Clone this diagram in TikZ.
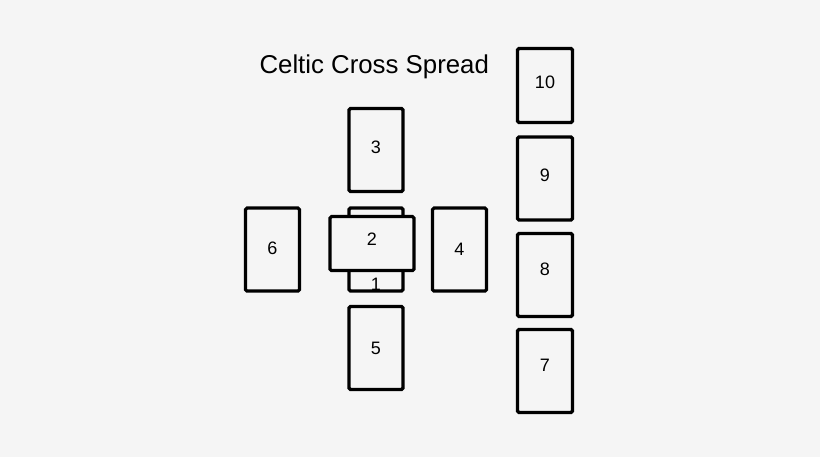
\documentclass[tikz,border=0pt]{standalone}
\usepackage{fontspec}
\setmainfont{Liberation Sans}
\definecolor{paper}{HTML}{F5F5F5}

\begin{document}
\begin{tikzpicture}[%
    x=1pt, y=-1pt,
    card/.style={draw, line width=3.2pt, rounded corners=1.5pt, fill=paper,
      minimum width=54pt, minimum height=83pt, inner sep=0pt,
      font=\fontsize{18}{20}\selectfont},
    lift/.style={text depth=#1}
  ]
    \fill[paper] (0,0) rectangle (820,457);
    \useasboundingbox (0,0) rectangle (820,457);

    \node[anchor=base west, font=\fontsize{25.8}{30}\selectfont] (title) at (256,74) {Celtic Cross Spread};

    \node[card, label={[anchor=base, yshift=2.5pt, font=\fontsize{18}{20}\selectfont]south:1}] (c1) at (376,249.5) {};
    \node[card, minimum width=84pt, minimum height=54pt, lift=8.6pt] (c2) at (372,243.6) {2};
    \node[card, lift=6pt] (c3) at (376,150) {3};
    \node[card] (c4) at (459.5,249.6) {4};
    \node[card] (c5) at (376,348) {5};
    \node[card, lift=3pt] (c6) at (272.5,249.6) {6};

    \foreach \n/\y/\dep in {7/371/11.4pt, 8/275/11.4pt, 9/178.5/6.4pt}
      {\node[card, minimum width=55pt, lift=\dep] (c\n) at (545,\y) {\n};}
    \node[card, minimum width=55pt, minimum height=74pt, lift=6.4pt] (c10) at (545,85.5) {10};
\end{tikzpicture}
\end{document}
